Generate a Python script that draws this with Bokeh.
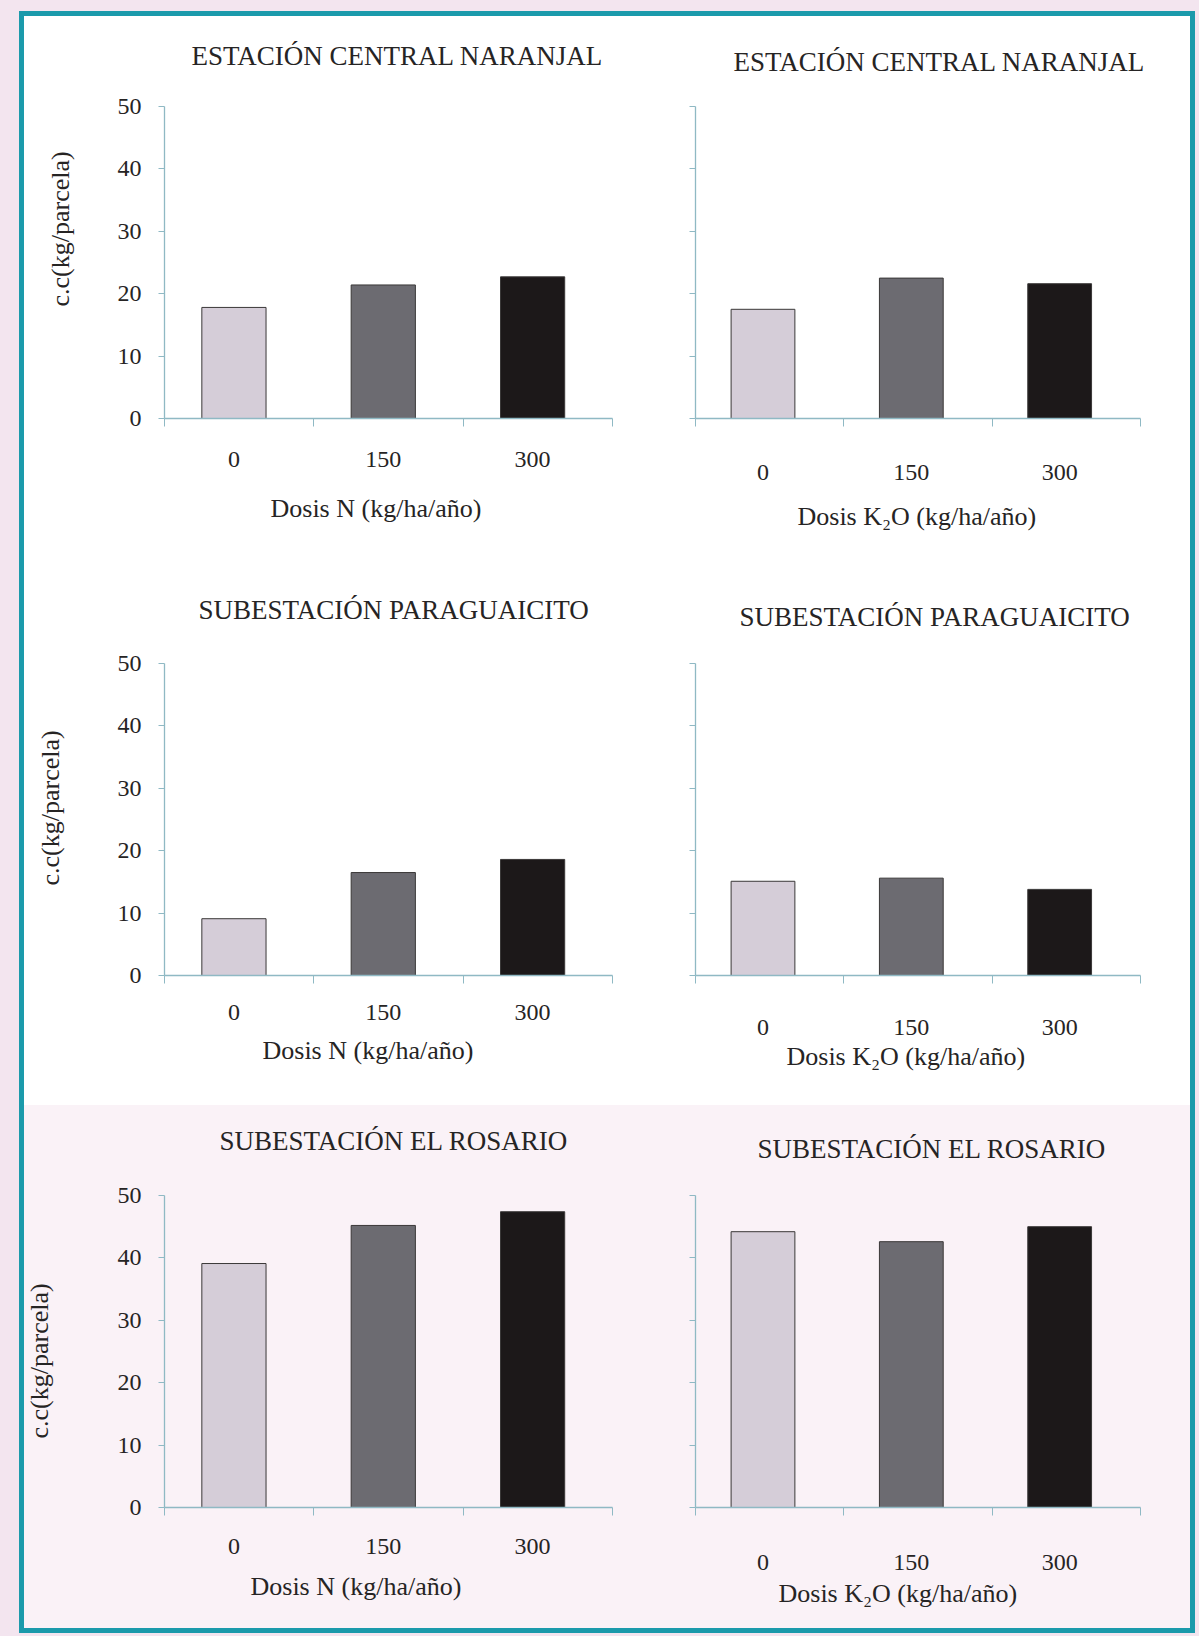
from bokeh.embed import file_html
from bokeh.layouts import column, row
from bokeh.models import ColumnDataSource, FixedTicker, LinearAxis, Range1d, Title
from bokeh.plotting import figure
from bokeh.resources import INLINE

# Fertiliser doses on the horizontal axis (kg/ha/año)
doses = ["0", "150", "300"]
y_ticks = [0, 10, 20, 30, 40, 50]

station_naranjal = "ESTACIÓN CENTRAL NARANJAL"
station_paraguaicito = "SUBESTACIÓN PARAGUAICITO"
station_rosario = "SUBESTACIÓN EL ROSARIO"

label_n = "Dosis N (kg/ha/año)"
label_k = "Dosis K\u2082O (kg/ha/año)"
label_y = "c.c(kg/parcela)"

# Café cereza per plot (kg/parcela) for each dose
naranjal_n = [17.8, 21.4, 22.7]
naranjal_k = [17.5, 22.5, 21.6]
paraguaicito_n = [9.1, 16.5, 18.6]
paraguaicito_k = [15.1, 15.6, 13.8]
rosario_n = [39.1, 45.2, 47.4]
rosario_k = [44.2, 42.6, 45.0]

bar_colors = ["#d5cdd8", "#6c6b71", "#1c1819"]

FONT = "Liberation Serif"
TEXT = "#262424"
AXIS = "#8fb9c4"
FRAME_H = 314
WHITE = "#ffffff"
PINK = "#faf2f7"


def text_title(text, size, loc_off, standoff):
    return Title(text=text, align="left", offset=loc_off, vertical_align="top",
                 standoff=standoff, text_font=FONT, text_font_size=size,
                 text_font_style="normal", text_color=TEXT)


def blank_band(size, fill, tick):
    # an unlabelled axis whose only job is to hold a band of empty space
    return LinearAxis(ticker=FixedTicker(ticks=[tick], minor_ticks=[]),
                      major_label_overrides={tick: ""}, major_label_text_font_size="1px",
                      major_label_standoff=0, axis_line_color=None,
                      major_tick_out=size, major_tick_in=0, major_tick_line_color=fill,
                      minor_tick_out=0, minor_tick_in=0, minor_tick_line_color=None)


def make_panel(title, values, xlabel, left_col, height, fill, lay):
    border_left = 140 if left_col else 73
    frame_w = 448 if left_col else 445
    border_right = 10 if left_col else 50
    top = 88 if left_col else 90
    shift = 0.035 if left_col else 0.045  # bars sit a little left of the category cells
    n = len(doses)
    p = figure(width=border_left + frame_w + border_right, height=height,
               x_range=Range1d(-0.5 + shift, n - 0.5 + shift), y_range=Range1d(0, 50),
               tools="", toolbar_location=None, output_backend="svg",
               min_border_left=border_left, min_border_right=border_right,
               min_border_top=top, min_border_bottom=height - top - FRAME_H)
    p.background_fill_color = fill
    p.border_fill_color = fill
    p.outline_line_color = None
    p.xgrid.visible = False
    p.ygrid.visible = False

    src = ColumnDataSource(dict(x=list(range(n)), top=values, color=bar_colors))
    p.vbar(x="x", top="top", bottom=0, width=0.43, source=src,
           fill_color="color", line_color="#3a3838", line_width=1)

    xa = p.xaxis[0]
    xa.ticker = FixedTicker(ticks=list(range(n)),
                            minor_ticks=[i - 0.5 + shift for i in range(n + 1)])
    xa.major_label_overrides = {i: d for i, d in enumerate(doses)}
    xa.major_tick_out = 0
    xa.major_tick_in = 0
    xa.minor_tick_out = 8
    xa.minor_tick_in = 0
    xa.minor_tick_line_color = AXIS
    xa.axis_line_color = AXIS
    xa.axis_line_width = 1.3
    xa.major_label_text_font = FONT
    xa.major_label_text_font_size = "24px"
    xa.major_label_text_color = TEXT
    xa.major_label_standoff = lay["tick_st"]

    ya = p.yaxis[0]
    ya.ticker = FixedTicker(ticks=y_ticks, minor_ticks=[])
    ya.major_tick_out = 6
    ya.major_tick_in = 0
    ya.major_tick_line_color = AXIS
    ya.axis_line_color = AXIS
    ya.axis_line_width = 1.3
    ya.major_label_text_font = FONT
    ya.major_label_text_font_size = "24px"
    ya.major_label_text_color = TEXT
    ya.major_label_standoff = 17
    if left_col:
        p.add_layout(blank_band(lay["y_gap"], fill, 25), "left")
        p.add_layout(text_title(label_y, "26px", lay["y_off"], lay["y_title_st"]), "left")
    else:
        ya.major_label_overrides = {t: "" for t in y_ticks}

    if lay["gap"] > 0:
        p.add_layout(blank_band(lay["gap"], fill, 1), "above")
    p.add_layout(text_title(title, "27px", lay["t_off"], lay["t_st"]), "above")
    p.add_layout(text_title(xlabel, "26px", lay["x_off"], lay["x_st"]), "below")
    return p


p1 = make_panel(station_naranjal, naranjal_n, label_n, True, 557, WHITE,
                dict(gap=13, t_off=27, t_st=42, x_off=106, x_st=49, tick_st=25,
                     y_gap=17, y_off=112, y_title_st=41))
p2 = make_panel(station_naranjal, naranjal_k, label_k, False, 557, WHITE,
                dict(gap=0, t_off=38, t_st=56, x_off=102, x_st=39, tick_st=38))
p3 = make_panel(station_paraguaicito, paraguaicito_n, label_n, True, 532, WHITE,
                dict(gap=19, t_off=34, t_st=36, x_off=98, x_st=26, tick_st=21,
                     y_gap=38, y_off=90, y_title_st=20))
p4 = make_panel(station_paraguaicito, paraguaicito_k, label_k, False, 532, WHITE,
                dict(gap=3, t_off=44, t_st=54, x_off=91, x_st=9, tick_st=36))
p5 = make_panel(station_rosario, rosario_n, label_n, True, 523, PINK,
                dict(gap=21, t_off=55, t_st=34, x_off=86, x_st=30, tick_st=23,
                     y_gap=59, y_off=69, y_title_st=0))
p6 = make_panel(station_rosario, rosario_k, label_k, False, 523, PINK,
                dict(gap=3, t_off=62, t_st=54, x_off=83, x_st=12, tick_st=39))

grid = column(row(p1, p2), row(p3, p4), row(p5, p6, styles={"background-color": PINK}),
              styles={"border": "5px solid #1b9aab", "background-color": "#ffffff"})
page = column(grid, styles={"background-color": "#f3e5ef", "padding": "11px 4px 3px 19px"})

open("out.html", "w").write(file_html(page, INLINE))
